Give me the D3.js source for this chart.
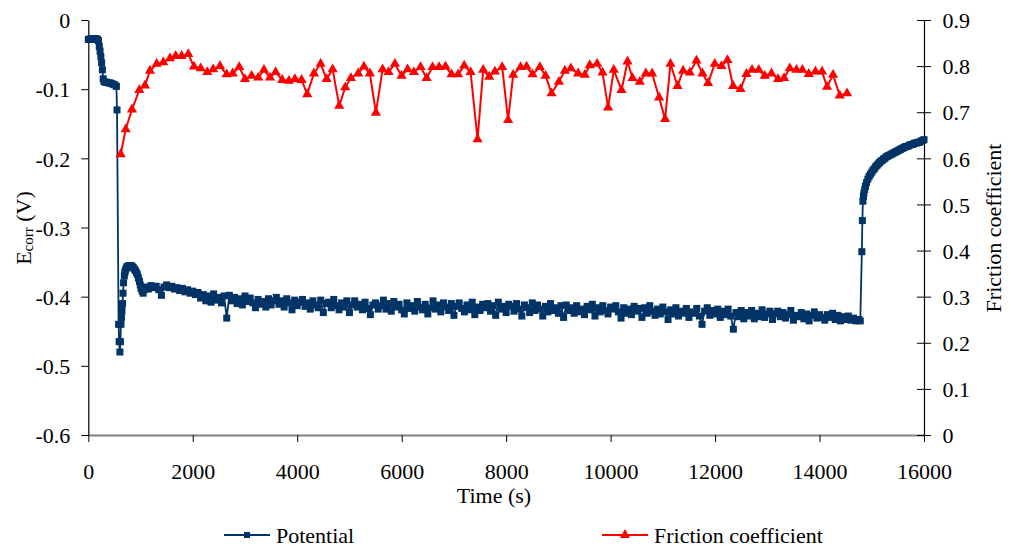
<!DOCTYPE html>
<html>
<head>
<meta charset="utf-8">
<script src="https://cdn.jsdelivr.net/npm/d3@7"></script>
<style>
  html, body { margin: 0; padding: 0; background: #fff; }
  svg { display: block; }
</style>
</head>
<body>
<svg id="chart" width="1010" height="552"></svg>
<script>
// ---------- data ----------
const xTicks = [0, 2000, 4000, 6000, 8000, 10000, 12000, 14000, 16000];
const leftTicks = [0, -0.1, -0.2, -0.3, -0.4, -0.5, -0.6];
const rightTicks = [0, 0.1, 0.2, 0.3, 0.4, 0.5, 0.6, 0.7, 0.8, 0.9];
const seriesNames = ["Potential", "Friction coefficient"];

// Potential [time (s), Ecorr (V)]
const potential = [
  [0,-0.028],[25,-0.028],[50,-0.027],[75,-0.028],[100,-0.027],[125,-0.027],[150,-0.027],[175,-0.028],[195,-0.030],
  [210,-0.038],[225,-0.045],[240,-0.053],[255,-0.062],[270,-0.072],[285,-0.085],[300,-0.089],[330,-0.090],[360,-0.090],
  [390,-0.091],[420,-0.091],[450,-0.092],[480,-0.093],[510,-0.094],[538,-0.096],[550,-0.130],
  [580,-0.440],[590,-0.465],[605,-0.480],[615,-0.465],[625,-0.440],[635,-0.430],[645,-0.420],[655,-0.410],
  [665,-0.395],[675,-0.380],[690,-0.370],[700,-0.365],[710,-0.362],[725,-0.359],[740,-0.357],[755,-0.356],[770,-0.356],
  [785,-0.355],[800,-0.355],[815,-0.355],[830,-0.356],[845,-0.357],[860,-0.358],[880,-0.360],[900,-0.362],[920,-0.365],
  [940,-0.368],[960,-0.373],[980,-0.378],[995,-0.383],[1010,-0.388],[1030,-0.392],[1050,-0.395],[1070,-0.390],
  [1100,-0.386],[1150,-0.389],[1200,-0.384],[1250,-0.387],[1300,-0.385],[1350,-0.390],[1400,-0.398],[1450,-0.386],[1500,-0.383],[1550,-0.387],
  [1600,-0.385],[1650,-0.389],[1700,-0.387],[1750,-0.391],[1800,-0.388],[1850,-0.393],[1900,-0.390],[1950,-0.395],[2000,-0.392],[2050,-0.397],
  [2100,-0.394],[2150,-0.402],[2200,-0.397],[2250,-0.406],[2300,-0.399],[2350,-0.408],[2400,-0.396],[2450,-0.405],[2500,-0.401],[2550,-0.409],
  [2600,-0.399],[2650,-0.431],[2700,-0.398],[2750,-0.406],[2800,-0.401],[2850,-0.410],[2900,-0.403],[2950,-0.412],[3000,-0.399],[3050,-0.407],
  [3100,-0.402],[3150,-0.409],[3200,-0.416],[3250,-0.404],[3300,-0.411],[3350,-0.407],[3400,-0.415],[3450,-0.403],[3500,-0.412],[3550,-0.406],
  [3600,-0.401],[3650,-0.411],[3700,-0.406],[3750,-0.415],[3800,-0.403],[3850,-0.409],[3900,-0.419],[3950,-0.405],[4000,-0.413],[4050,-0.408],
  [4100,-0.404],[4150,-0.414],[4200,-0.409],[4250,-0.418],[4300,-0.406],[4350,-0.412],[4400,-0.416],[4450,-0.405],[4500,-0.423],[4550,-0.410],
  [4600,-0.408],[4650,-0.416],[4700,-0.404],[4750,-0.413],[4800,-0.419],[4850,-0.409],[4900,-0.415],[4950,-0.406],[5000,-0.423],[5050,-0.412],
  [5100,-0.406],[5150,-0.415],[5200,-0.411],[5250,-0.419],[5300,-0.408],[5350,-0.417],[5400,-0.426],[5450,-0.412],[5500,-0.409],[5550,-0.418],
  [5600,-0.413],[5650,-0.405],[5700,-0.418],[5750,-0.410],[5800,-0.421],[5850,-0.407],[5900,-0.415],[5950,-0.411],[6000,-0.419],[6050,-0.425],
  [6100,-0.409],[6150,-0.417],[6200,-0.413],[6250,-0.421],[6300,-0.407],[6350,-0.415],[6400,-0.419],[6450,-0.411],[6500,-0.425],[6550,-0.416],
  [6600,-0.406],[6650,-0.418],[6700,-0.412],[6750,-0.422],[6800,-0.409],[6850,-0.415],[6900,-0.420],[6950,-0.410],[7000,-0.427],[7050,-0.414],
  [7100,-0.409],[7150,-0.417],[7200,-0.422],[7250,-0.412],[7300,-0.419],[7350,-0.408],[7400,-0.426],[7450,-0.415],[7500,-0.420],[7550,-0.411],
  [7600,-0.416],[7650,-0.410],[7700,-0.421],[7750,-0.413],[7800,-0.427],[7850,-0.408],[7900,-0.418],[7950,-0.414],[8000,-0.423],[8050,-0.411],
  [8100,-0.414],[8150,-0.421],[8200,-0.410],[8250,-0.418],[8300,-0.428],[8350,-0.412],[8400,-0.416],[8450,-0.423],[8500,-0.409],[8550,-0.420],
  [8600,-0.412],[8650,-0.418],[8700,-0.428],[8750,-0.414],[8800,-0.422],[8850,-0.410],[8900,-0.420],[8950,-0.416],[9000,-0.424],[9050,-0.413],
  [9100,-0.430],[9150,-0.412],[9200,-0.420],[9250,-0.416],[9300,-0.424],[9350,-0.413],[9400,-0.422],[9450,-0.418],[9500,-0.426],[9550,-0.414],
  [9600,-0.419],[9650,-0.411],[9700,-0.428],[9750,-0.416],[9800,-0.422],[9850,-0.413],[9900,-0.420],[9950,-0.425],[10000,-0.415],[10050,-0.418],
  [10100,-0.413],[10150,-0.422],[10200,-0.431],[10250,-0.416],[10300,-0.424],[10350,-0.418],[10400,-0.426],[10450,-0.414],[10500,-0.421],[10550,-0.417],
  [10600,-0.430],[10650,-0.416],[10700,-0.424],[10750,-0.413],[10800,-0.421],[10850,-0.427],[10900,-0.418],[10950,-0.425],[11000,-0.415],[11050,-0.422],
  [11100,-0.433],[11150,-0.419],[11200,-0.425],[11250,-0.416],[11300,-0.428],[11350,-0.421],[11400,-0.424],[11450,-0.417],[11500,-0.430],[11550,-0.422],
  [11600,-0.424],[11650,-0.417],[11700,-0.428],[11750,-0.440],[11800,-0.421],[11850,-0.416],[11900,-0.427],[11950,-0.420],[12000,-0.425],[12050,-0.418],
  [12100,-0.430],[12150,-0.421],[12200,-0.426],[12250,-0.418],[12300,-0.428],[12350,-0.447],[12400,-0.423],[12450,-0.429],[12500,-0.420],[12550,-0.432],
  [12600,-0.423],[12650,-0.428],[12700,-0.420],[12750,-0.432],[12800,-0.424],[12850,-0.429],[12900,-0.419],[12950,-0.430],[13000,-0.425],[13050,-0.421],
  [13100,-0.433],[13150,-0.425],[13200,-0.421],[13250,-0.429],[13300,-0.423],[13350,-0.431],[13400,-0.426],[13450,-0.420],[13500,-0.434],[13550,-0.427],
  [13600,-0.429],[13650,-0.423],[13700,-0.432],[13750,-0.425],[13800,-0.435],[13850,-0.427],[13900,-0.422],[13950,-0.431],[14000,-0.426],[14050,-0.430],
  [14100,-0.434],[14150,-0.426],[14200,-0.430],[14250,-0.424],[14300,-0.433],[14350,-0.427],[14400,-0.435],[14450,-0.429],[14500,-0.433],[14550,-0.428],
  [14600,-0.434],[14650,-0.431],[14700,-0.435],[14750,-0.433],[14780,-0.435],
  [14810,-0.335],[14820,-0.290],[14830,-0.262],[14840,-0.255],[14850,-0.250],[14865,-0.245],[14880,-0.240],[14900,-0.235],[14925,-0.230],
  [14950,-0.226],[14975,-0.223],[15000,-0.220],[15025,-0.217],[15050,-0.215],[15075,-0.212],[15100,-0.210],[15125,-0.208],[15150,-0.206],
  [15175,-0.204],[15200,-0.203],[15225,-0.201],[15250,-0.200],[15275,-0.198],[15300,-0.197],[15325,-0.196],[15350,-0.195],[15375,-0.194],
  [15400,-0.193],[15425,-0.192],[15450,-0.191],[15475,-0.190],[15500,-0.189],[15525,-0.188],[15550,-0.187],[15575,-0.186],[15600,-0.185],
  [15625,-0.184],[15650,-0.183],[15675,-0.183],[15700,-0.182],[15725,-0.181],[15750,-0.180],[15775,-0.180],[15800,-0.179],[15825,-0.178],
  [15850,-0.178],[15875,-0.177],[15900,-0.177],[15925,-0.176],[15950,-0.175],[15975,-0.174],[16000,-0.173]
];

// Friction coefficient [time (s), mu]
const friction = [
  [620,0.609],[716,0.663],[836,0.706],[976,0.748],[1085,0.758],[1181,0.790],[1309,0.805],[1435,0.808],[1564,0.817],
  [1673,0.822],[1788,0.822],[1914,0.826],[2023,0.799],[2151,0.795],[2278,0.787],[2392,0.793],[2521,0.800],[2649,0.782],
  [2764,0.784],[2890,0.798],[2999,0.772],[3127,0.779],[3254,0.775],[3363,0.792],[3478,0.775],[3587,0.787],[3713,0.770],
  [3841,0.768],[3956,0.772],[4084,0.770],[4191,0.739],[4320,0.784],[4448,0.805],[4563,0.772],[4678,0.793],[4804,0.714],
  [4919,0.754],[5028,0.774],[5168,0.784],[5277,0.799],[5391,0.784],[5506,0.699],[5634,0.793],[5749,0.787],[5870,0.805],
  [5998,0.779],[6113,0.793],[6234,0.787],[6362,0.798],[6477,0.774],[6591,0.798],[6718,0.798],[6840,0.799],[6955,0.782],
  [7081,0.782],[7196,0.801],[7319,0.787],[7453,0.641],[7560,0.792],[7675,0.777],[7784,0.788],[7924,0.798],[8038,0.683],
  [8134,0.781],[8276,0.798],[8391,0.799],[8505,0.782],[8645,0.798],[8754,0.779],[8869,0.741],[9009,0.766],[9124,0.790],
  [9239,0.795],[9378,0.784],[9506,0.781],[9600,0.802],[9742,0.805],[9845,0.786],[9952,0.710],[10061,0.792],[10209,0.748],
  [10324,0.810],[10419,0.774],[10559,0.766],[10674,0.784],[10794,0.784],[10928,0.732],[11043,0.685],[11146,0.805],
  [11281,0.757],[11388,0.790],[11516,0.786],[11644,0.812],[11759,0.784],[11866,0.763],[11994,0.805],[12122,0.800],
  [12237,0.813],[12345,0.757],[12486,0.750],[12601,0.783],[12708,0.792],[12837,0.792],[12951,0.779],[13080,0.784],
  [13206,0.772],[13321,0.774],[13430,0.795],[13558,0.792],[13673,0.792],[13794,0.783],[13922,0.788],[14048,0.788],
  [14144,0.755],[14259,0.781],[14387,0.736],[14527,0.741]
];

// ---------- chart ----------
const svg = d3.select("#chart");
const FONT = 22;
const SERIF = '"Liberation Serif", "Times New Roman", Tinos, "DejaVu Serif", serif';
const x = d3.scaleLinear().domain([0, 16000]).range([88.3, 924]);
const yL = d3.scaleLinear().domain([-0.6, 0]).range([435, 20]);
const yR = d3.scaleLinear().domain([0, 0.9]).range([435, 20]);
const fmt = d => (d === 0 ? "0" : (d < 0 ? "-" : "") + Math.abs(d).toFixed(1));

const potColor = "#003366";
const fricColor = "#ff0000";

// bottom axis
const gx = svg.append("g").attr("transform", `translate(0,435)`)
  .call(d3.axisBottom(x).tickValues(xTicks).tickFormat(d3.format("d")).tickSize(7).tickSizeOuter(0))
  .attr("font-family", SERIF);
gx.select(".domain").attr("stroke", "#808080").attr("stroke-width", 2.2);
gx.selectAll(".tick line").attr("stroke", "#000").attr("stroke-width", 1);
gx.selectAll(".tick text").attr("font-size", FONT).attr("fill", "#000").attr("y", 44).attr("dy", 0);

// left axis
const gl = svg.append("g").attr("transform", `translate(88.3,0)`)
  .call(d3.axisLeft(yL).tickValues(leftTicks).tickFormat(fmt).tickSize(7).tickSizeOuter(0))
  .attr("font-family", SERIF);
gl.select(".domain").attr("stroke", "#000").attr("stroke-width", 1.2);
gl.selectAll(".tick line").attr("stroke", "#000");
gl.selectAll(".tick text").attr("font-size", FONT).attr("fill", "#000").attr("x", -18).attr("dy", "0.35em");

// right axis
const gr = svg.append("g").attr("transform", `translate(924,0)`)
  .call(d3.axisRight(yR).tickValues(rightTicks).tickFormat(fmt).tickSize(7).tickSizeOuter(0))
  .attr("font-family", SERIF);
gr.select(".domain").attr("stroke", "#000").attr("stroke-width", 1.2);
gr.selectAll(".tick line").attr("stroke", "#000").attr("x1", -7).attr("x2", 7);
gr.selectAll(".tick text").attr("font-size", FONT).attr("fill", "#000").attr("x", 18.5).attr("dy", "0.35em");

// axis titles
svg.append("text").attr("x", 494).attr("y", 503).attr("text-anchor", "middle")
  .attr("font-family", SERIF).attr("font-size", FONT).text("Time (s)");

const lt = svg.append("text").attr("transform", "translate(31,228) rotate(-90)")
  .attr("text-anchor", "middle").attr("font-family", SERIF).attr("font-size", FONT);
lt.append("tspan").text("E");
lt.append("tspan").attr("font-size", 15).attr("dy", 2).text("corr");
lt.append("tspan").attr("dy", -2).text(" (V)");

svg.append("text").attr("transform", "translate(1001,228) rotate(-90)")
  .attr("text-anchor", "middle").attr("font-family", SERIF).attr("font-size", FONT).text("Friction coefficient");

// potential series
const potLine = d3.line().x(d => x(d[0])).y(d => yL(d[1]));
svg.append("path").datum(potential).attr("d", potLine)
  .attr("fill", "none").attr("stroke", potColor).attr("stroke-width", 1.8);
svg.append("g").selectAll("rect").data(potential).join("rect")
  .attr("x", d => x(d[0]) - 3.5).attr("y", d => yL(d[1]) - 3.5)
  .attr("width", 7).attr("height", 7).attr("fill", potColor);

// friction series
const fricLine = d3.line().x(d => x(d[0])).y(d => yR(d[1]));
svg.append("path").datum(friction).attr("d", fricLine)
  .attr("fill", "none").attr("stroke", fricColor).attr("stroke-width", 2);
const tri = d3.symbol().type(d3.symbolTriangle).size(45);
svg.append("g").selectAll("path").data(friction).join("path")
  .attr("d", tri).attr("transform", d => `translate(${x(d[0])},${yR(d[1])})`)
  .attr("fill", fricColor);

// legend
const legend = [
  { name: seriesNames[0], x1: 224, x2: 270, tx: 276, color: potColor, mark: "square" },
  { name: seriesNames[1], x1: 602, x2: 648, tx: 654, color: fricColor, mark: "tri" }
];
const lg = svg.append("g");
legend.forEach(l => {
  lg.append("line").attr("x1", l.x1).attr("x2", l.x2).attr("y1", 535).attr("y2", 535)
    .attr("stroke", l.color).attr("stroke-width", l.mark === "tri" ? 2 : 1.8);
  if (l.mark === "square") {
    lg.append("rect").attr("x", (l.x1 + l.x2) / 2 - 3).attr("y", 532).attr("width", 6).attr("height", 6).attr("fill", l.color);
  } else {
    lg.append("path").attr("d", tri).attr("transform", `translate(${(l.x1 + l.x2) / 2},535)`).attr("fill", l.color);
  }
  lg.append("text").attr("x", l.tx).attr("y", 543).attr("font-family", SERIF).attr("font-size", FONT).text(l.name);
});
</script>
</body>
</html>
